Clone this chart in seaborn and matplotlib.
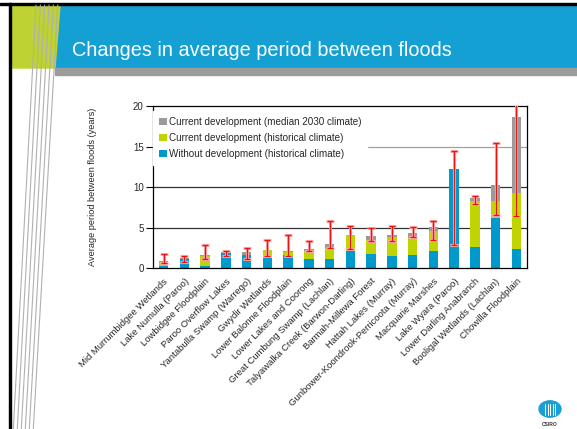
import numpy as np
import pandas as pd
import matplotlib
matplotlib.use("Agg")
import matplotlib.pyplot as plt
from matplotlib.patches import Rectangle, Polygon, Circle
from matplotlib.lines import Line2D
import seaborn as sns

# ---------------- data ----------------
categories = [
    "Mid Murrumbidgee Wetlands", "Lake Numulla (Paroo)", "Lowbidgee Floodplain",
    "Paroo Overflow Lakes", "Yantabulla Swamp (Warrego)", "Gwydir Wetlands",
    "Lower Balonne Floodplain", "Lower Lakes and Coorong", "Great Cumbung Swamp (Lachlan)",
    "Talyawalka Creek (Barwon-Darling)", "Barmah-Millewa Forest", "Hattah Lakes (Murray)",
    "Gunbower-Koondrook-Perricoota (Murray)", "Macquarie Marshes", "Lake Wyara (Paroo)",
    "Lower Darling Anabranch", "Booligal Wetlands (Lachlan)", "Chowilla Floodplain",
]
without_dev_hist = [0.33, 1.12, 0.33, 1.87, 1.70, 1.29, 1.58, 1.17, 1.17, 2.17,
                    1.79, 1.54, 1.65, 2.14, 12.26, 2.63, 6.21, 2.39]
current_dev_hist = [0.75, 1.12, 1.54, 1.87, 1.70, 2.29, 2.00, 2.17, 2.54, 4.08,
                    3.54, 3.80, 3.79, 4.65, 12.26, 8.31, 8.31, 9.30]
current_dev_2030 = [0.92, 1.29, 1.67, 2.00, 1.96, 2.29, 2.17, 2.42, 3.04, 4.08,
                    4.04, 4.15, 4.36, 5.10, 12.26, 8.68, 10.29, 18.68]
range_low = [0.63, 0.79, 1.17, 1.46, 1.20, 1.46, 1.54, 2.08, 2.50, 2.42,
             3.42, 3.40, 3.83, 3.46, 2.88, 7.90, 6.54, 6.46]
range_high = [1.75, 1.54, 2.87, 2.12, 2.54, 3.46, 4.08, 3.33, 5.83, 5.25,
              4.92, 5.20, 5.14, 5.80, 14.50, 8.93, 15.47, 20.40]
y_ticks = [0, 5, 10, 15, 20]

labels = ["Current development (median 2030 climate)",
          "Current development (historical climate)",
          "Without development (historical climate)"]
colors = ["#9a9a9a", "#bfd400", "#0099cc"]

df = pd.DataFrame({"site": categories, "c2030": current_dev_2030,
                   "chist": current_dev_hist, "whist": without_dev_hist})

sns.set_style("white")
plt.rcParams["font.family"] = ["Liberation Sans", "DejaVu Sans"]

W, H = 577, 429
fig = plt.figure(figsize=(W / 100, H / 100), dpi=100)

def fx(px):
    return px / W

def fy(py):
    return 1 - py / H

# ---------------- slide decoration ----------------
blue_band = "#14a0d2"
fig.patches.append(Rectangle((fx(55), fy(68)), fx(577 - 55), fy(5) - fy(68),
                             transform=fig.transFigure, color=blue_band, zorder=0))
fig.patches.append(Polygon([(fx(11), fy(5)), (fx(60), fy(5)), (fx(55), fy(68)), (fx(11), fy(68))],
                           closed=True, transform=fig.transFigure, color="#bed232", zorder=0))
fig.patches.append(Rectangle((fx(55), fy(75)), fx(577 - 55), fy(68) - fy(75),
                             transform=fig.transFigure, color="#9c9c9c", zorder=0))
fig.patches.append(Rectangle((0, fy(5)), 1, fy(3) - fy(5), transform=fig.transFigure,
                             color="black", zorder=1))
fig.patches.append(Rectangle((fx(9), 0), fx(2.2), fy(3), transform=fig.transFigure,
                             color="black", zorder=1))
for i in range(6):
    x0 = 36 + 4.35 * i
    x1 = 13.3 + 4.0 * i
    fig.lines.append(Line2D([fx(x0), fx(x1)], [fy(5), fy(429)], transform=fig.transFigure,
                            color="#b0b0b0", lw=0.8, zorder=2))

fig.text(fx(72), fy(51), "Changes in average period between floods", color="white",
         fontsize=14.3, ha="left", va="center")

# CSIRO logo
fig.patches.append(Circle((fx(550), fy(409)), 11 / W, transform=fig.transFigure,
                          color="#1a9fd4", zorder=2))
for dx in [-5, -2.5, 0, 2.5, 5]:
    fig.lines.append(Line2D([fx(550 + dx), fx(550 + dx)], [fy(404), fy(415)],
                            transform=fig.transFigure, color="white", lw=0.7, zorder=3))
fig.text(fx(550), fy(424), "CSIRO", fontsize=3.5, ha="center", va="center",
         color="#333333", fontweight="bold")

# ---------------- chart ----------------
ax = fig.add_axes([fx(153.3), fy(268.3), fx(526.7 - 153.3), fy(106) - fy(268.3)])
ax.set_facecolor("white")

for col, lab, c in zip(["c2030", "chist", "whist"], labels, colors):
    sns.barplot(data=df, x="site", y=col, color=c, width=0.46, ax=ax, label=lab,
                order=categories, saturation=1, zorder=2, linewidth=0)

xpos = np.arange(len(categories))
low = np.array(range_low)
high = np.array(range_high)
mid = (low + high) / 2
err = (high - low) / 2
ax.errorbar(xpos, mid, yerr=err, fmt="none", ecolor="#ffb4b4", elinewidth=2.2,
            capsize=2.7, capthick=2.2, zorder=3)
ax.errorbar(xpos, mid, yerr=err, fmt="none", ecolor="#ee1111", elinewidth=1.0,
            capsize=2.4, capthick=1.0, zorder=4)

ax.axhline(5, color="#333333", lw=0.9, zorder=1)
ax.axhline(10, color="#333333", lw=0.9, zorder=1)
ax.axhline(15, color="#a0a0a0", lw=0.9, zorder=1)

ax.set_ylim(0, 20)
ax.set_xlim(-0.5, len(categories) - 0.5)
ax.set_yticks(y_ticks)
ax.set_yticklabels([str(t) for t in y_ticks])
ax.set_xticks(xpos)
ax.set_xticklabels(categories, rotation=45, ha="right", rotation_mode="anchor", fontsize=6.8)
ax.set_xticks(np.arange(-0.5, len(categories)), minor=True)
ax.tick_params(axis="x", which="major", length=0, pad=6)
ax.tick_params(axis="x", which="minor", length=3.5, direction="out", width=0.8, color="black")
ax.tick_params(axis="y", length=5, direction="out", width=0.8, labelsize=7, pad=2, color="black", left=True)
ax.set_xlabel("")
ax.set_ylabel("Average period between floods (years)", fontsize=6.6)
ax.yaxis.set_label_coords(-0.15, 0.5)
for s in ax.spines.values():
    s.set_visible(True)
    s.set_color("black")
    s.set_linewidth(0.9)

leg = ax.legend(loc="upper left", bbox_to_anchor=(0.0, 0.97), fontsize=7.1, frameon=True,
                facecolor="white", edgecolor="white", framealpha=1, fancybox=False,
                handlelength=0.75, handleheight=0.75, handletextpad=0.25,
                labelspacing=0.6, borderpad=0.6, borderaxespad=0.0)
leg.set_zorder(5)

fig.savefig("out.png", dpi=100)
